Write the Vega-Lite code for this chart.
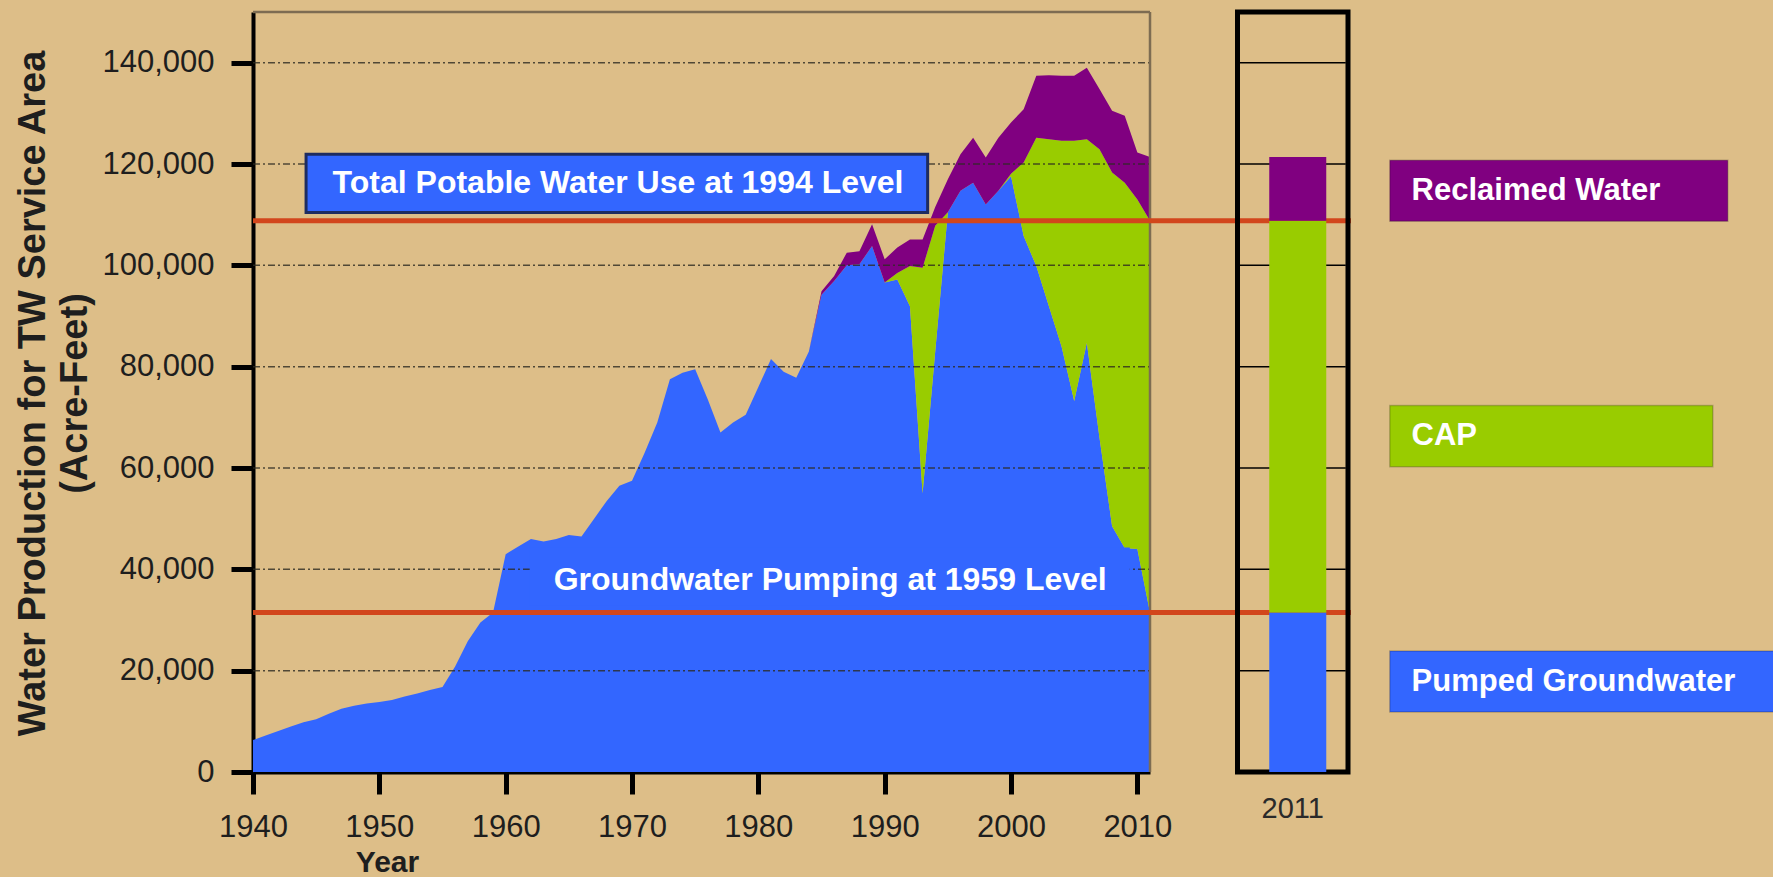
{
  "$schema": "https://vega.github.io/schema/vega-lite/v6.json",
  "width": 1098,
  "height": 760,
  "autosize": "none",
  "padding": {"left": 253, "top": 12, "right": 422, "bottom": 105},
  "background": "#DDBE88",
  "config": {
    "view": {"stroke": null},
    "font": "Liberation Sans",
    "axis": {"labelFont": "Liberation Sans", "titleFont": "Liberation Sans"},
    "text": {"font": "Liberation Sans"}
  },
  "datasets": {
    "grid": [{"v": 20000}, {"v": 40000}, {"v": 60000}, {"v": 80000}, {"v": 100000}, {"v": 120000}, {"v": 140000}],
    "levels": [
      {"level": "Total Potable Water Use at 1994 Level", "value": 108800},
      {"level": "Groundwater Pumping at 1959 Level", "value": 31500}
    ],
    "one": [{}],
    "water": [
      {"year":1940,"source":"Pumped Groundwater","value":6300,"rank":1},{"year":1940,"source":"CAP","value":0,"rank":2},{"year":1940,"source":"Reclaimed Water","value":0,"rank":3},
      {"year":1941,"source":"Pumped Groundwater","value":7200,"rank":1},{"year":1941,"source":"CAP","value":0,"rank":2},{"year":1941,"source":"Reclaimed Water","value":0,"rank":3},
      {"year":1942,"source":"Pumped Groundwater","value":8100,"rank":1},{"year":1942,"source":"CAP","value":0,"rank":2},{"year":1942,"source":"Reclaimed Water","value":0,"rank":3},
      {"year":1943,"source":"Pumped Groundwater","value":9000,"rank":1},{"year":1943,"source":"CAP","value":0,"rank":2},{"year":1943,"source":"Reclaimed Water","value":0,"rank":3},
      {"year":1944,"source":"Pumped Groundwater","value":9800,"rank":1},{"year":1944,"source":"CAP","value":0,"rank":2},{"year":1944,"source":"Reclaimed Water","value":0,"rank":3},
      {"year":1945,"source":"Pumped Groundwater","value":10400,"rank":1},{"year":1945,"source":"CAP","value":0,"rank":2},{"year":1945,"source":"Reclaimed Water","value":0,"rank":3},
      {"year":1946,"source":"Pumped Groundwater","value":11500,"rank":1},{"year":1946,"source":"CAP","value":0,"rank":2},{"year":1946,"source":"Reclaimed Water","value":0,"rank":3},
      {"year":1947,"source":"Pumped Groundwater","value":12500,"rank":1},{"year":1947,"source":"CAP","value":0,"rank":2},{"year":1947,"source":"Reclaimed Water","value":0,"rank":3},
      {"year":1948,"source":"Pumped Groundwater","value":13100,"rank":1},{"year":1948,"source":"CAP","value":0,"rank":2},{"year":1948,"source":"Reclaimed Water","value":0,"rank":3},
      {"year":1949,"source":"Pumped Groundwater","value":13500,"rank":1},{"year":1949,"source":"CAP","value":0,"rank":2},{"year":1949,"source":"Reclaimed Water","value":0,"rank":3},
      {"year":1950,"source":"Pumped Groundwater","value":13800,"rank":1},{"year":1950,"source":"CAP","value":0,"rank":2},{"year":1950,"source":"Reclaimed Water","value":0,"rank":3},
      {"year":1951,"source":"Pumped Groundwater","value":14200,"rank":1},{"year":1951,"source":"CAP","value":0,"rank":2},{"year":1951,"source":"Reclaimed Water","value":0,"rank":3},
      {"year":1952,"source":"Pumped Groundwater","value":14900,"rank":1},{"year":1952,"source":"CAP","value":0,"rank":2},{"year":1952,"source":"Reclaimed Water","value":0,"rank":3},
      {"year":1953,"source":"Pumped Groundwater","value":15500,"rank":1},{"year":1953,"source":"CAP","value":0,"rank":2},{"year":1953,"source":"Reclaimed Water","value":0,"rank":3},
      {"year":1954,"source":"Pumped Groundwater","value":16200,"rank":1},{"year":1954,"source":"CAP","value":0,"rank":2},{"year":1954,"source":"Reclaimed Water","value":0,"rank":3},
      {"year":1955,"source":"Pumped Groundwater","value":16800,"rank":1},{"year":1955,"source":"CAP","value":0,"rank":2},{"year":1955,"source":"Reclaimed Water","value":0,"rank":3},
      {"year":1956,"source":"Pumped Groundwater","value":20800,"rank":1},{"year":1956,"source":"CAP","value":0,"rank":2},{"year":1956,"source":"Reclaimed Water","value":0,"rank":3},
      {"year":1957,"source":"Pumped Groundwater","value":25800,"rank":1},{"year":1957,"source":"CAP","value":0,"rank":2},{"year":1957,"source":"Reclaimed Water","value":0,"rank":3},
      {"year":1958,"source":"Pumped Groundwater","value":29500,"rank":1},{"year":1958,"source":"CAP","value":0,"rank":2},{"year":1958,"source":"Reclaimed Water","value":0,"rank":3},
      {"year":1959,"source":"Pumped Groundwater","value":31500,"rank":1},{"year":1959,"source":"CAP","value":0,"rank":2},{"year":1959,"source":"Reclaimed Water","value":0,"rank":3},
      {"year":1960,"source":"Pumped Groundwater","value":43000,"rank":1},{"year":1960,"source":"CAP","value":0,"rank":2},{"year":1960,"source":"Reclaimed Water","value":0,"rank":3},
      {"year":1961,"source":"Pumped Groundwater","value":44500,"rank":1},{"year":1961,"source":"CAP","value":0,"rank":2},{"year":1961,"source":"Reclaimed Water","value":0,"rank":3},
      {"year":1962,"source":"Pumped Groundwater","value":46000,"rank":1},{"year":1962,"source":"CAP","value":0,"rank":2},{"year":1962,"source":"Reclaimed Water","value":0,"rank":3},
      {"year":1963,"source":"Pumped Groundwater","value":45500,"rank":1},{"year":1963,"source":"CAP","value":0,"rank":2},{"year":1963,"source":"Reclaimed Water","value":0,"rank":3},
      {"year":1964,"source":"Pumped Groundwater","value":46000,"rank":1},{"year":1964,"source":"CAP","value":0,"rank":2},{"year":1964,"source":"Reclaimed Water","value":0,"rank":3},
      {"year":1965,"source":"Pumped Groundwater","value":46800,"rank":1},{"year":1965,"source":"CAP","value":0,"rank":2},{"year":1965,"source":"Reclaimed Water","value":0,"rank":3},
      {"year":1966,"source":"Pumped Groundwater","value":46500,"rank":1},{"year":1966,"source":"CAP","value":0,"rank":2},{"year":1966,"source":"Reclaimed Water","value":0,"rank":3},
      {"year":1967,"source":"Pumped Groundwater","value":50000,"rank":1},{"year":1967,"source":"CAP","value":0,"rank":2},{"year":1967,"source":"Reclaimed Water","value":0,"rank":3},
      {"year":1968,"source":"Pumped Groundwater","value":53500,"rank":1},{"year":1968,"source":"CAP","value":0,"rank":2},{"year":1968,"source":"Reclaimed Water","value":0,"rank":3},
      {"year":1969,"source":"Pumped Groundwater","value":56500,"rank":1},{"year":1969,"source":"CAP","value":0,"rank":2},{"year":1969,"source":"Reclaimed Water","value":0,"rank":3},
      {"year":1970,"source":"Pumped Groundwater","value":57500,"rank":1},{"year":1970,"source":"CAP","value":0,"rank":2},{"year":1970,"source":"Reclaimed Water","value":0,"rank":3},
      {"year":1971,"source":"Pumped Groundwater","value":63000,"rank":1},{"year":1971,"source":"CAP","value":0,"rank":2},{"year":1971,"source":"Reclaimed Water","value":0,"rank":3},
      {"year":1972,"source":"Pumped Groundwater","value":69000,"rank":1},{"year":1972,"source":"CAP","value":0,"rank":2},{"year":1972,"source":"Reclaimed Water","value":0,"rank":3},
      {"year":1973,"source":"Pumped Groundwater","value":77500,"rank":1},{"year":1973,"source":"CAP","value":0,"rank":2},{"year":1973,"source":"Reclaimed Water","value":0,"rank":3},
      {"year":1974,"source":"Pumped Groundwater","value":78800,"rank":1},{"year":1974,"source":"CAP","value":0,"rank":2},{"year":1974,"source":"Reclaimed Water","value":0,"rank":3},
      {"year":1975,"source":"Pumped Groundwater","value":79500,"rank":1},{"year":1975,"source":"CAP","value":0,"rank":2},{"year":1975,"source":"Reclaimed Water","value":0,"rank":3},
      {"year":1976,"source":"Pumped Groundwater","value":73500,"rank":1},{"year":1976,"source":"CAP","value":0,"rank":2},{"year":1976,"source":"Reclaimed Water","value":0,"rank":3},
      {"year":1977,"source":"Pumped Groundwater","value":67000,"rank":1},{"year":1977,"source":"CAP","value":0,"rank":2},{"year":1977,"source":"Reclaimed Water","value":0,"rank":3},
      {"year":1978,"source":"Pumped Groundwater","value":69000,"rank":1},{"year":1978,"source":"CAP","value":0,"rank":2},{"year":1978,"source":"Reclaimed Water","value":0,"rank":3},
      {"year":1979,"source":"Pumped Groundwater","value":70500,"rank":1},{"year":1979,"source":"CAP","value":0,"rank":2},{"year":1979,"source":"Reclaimed Water","value":0,"rank":3},
      {"year":1980,"source":"Pumped Groundwater","value":76000,"rank":1},{"year":1980,"source":"CAP","value":0,"rank":2},{"year":1980,"source":"Reclaimed Water","value":0,"rank":3},
      {"year":1981,"source":"Pumped Groundwater","value":81500,"rank":1},{"year":1981,"source":"CAP","value":0,"rank":2},{"year":1981,"source":"Reclaimed Water","value":0,"rank":3},
      {"year":1982,"source":"Pumped Groundwater","value":79000,"rank":1},{"year":1982,"source":"CAP","value":0,"rank":2},{"year":1982,"source":"Reclaimed Water","value":0,"rank":3},
      {"year":1983,"source":"Pumped Groundwater","value":77800,"rank":1},{"year":1983,"source":"CAP","value":0,"rank":2},{"year":1983,"source":"Reclaimed Water","value":0,"rank":3},
      {"year":1984,"source":"Pumped Groundwater","value":83000,"rank":1},{"year":1984,"source":"CAP","value":0,"rank":2},{"year":1984,"source":"Reclaimed Water","value":0,"rank":3},
      {"year":1985,"source":"Pumped Groundwater","value":94200,"rank":1},{"year":1985,"source":"CAP","value":0,"rank":2},{"year":1985,"source":"Reclaimed Water","value":700,"rank":3},
      {"year":1986,"source":"Pumped Groundwater","value":96900,"rank":1},{"year":1986,"source":"CAP","value":0,"rank":2},{"year":1986,"source":"Reclaimed Water","value":1000,"rank":3},
      {"year":1987,"source":"Pumped Groundwater","value":100000,"rank":1},{"year":1987,"source":"CAP","value":0,"rank":2},{"year":1987,"source":"Reclaimed Water","value":2500,"rank":3},
      {"year":1988,"source":"Pumped Groundwater","value":100200,"rank":1},{"year":1988,"source":"CAP","value":0,"rank":2},{"year":1988,"source":"Reclaimed Water","value":2600,"rank":3},
      {"year":1989,"source":"Pumped Groundwater","value":103800,"rank":1},{"year":1989,"source":"CAP","value":0,"rank":2},{"year":1989,"source":"Reclaimed Water","value":4300,"rank":3},
      {"year":1990,"source":"Pumped Groundwater","value":96600,"rank":1},{"year":1990,"source":"CAP","value":0,"rank":2},{"year":1990,"source":"Reclaimed Water","value":4600,"rank":3},
      {"year":1991,"source":"Pumped Groundwater","value":97200,"rank":1},{"year":1991,"source":"CAP","value":1300,"rank":2},{"year":1991,"source":"Reclaimed Water","value":5000,"rank":3},
      {"year":1992,"source":"Pumped Groundwater","value":91900,"rank":1},{"year":1992,"source":"CAP","value":7950,"rank":2},{"year":1992,"source":"Reclaimed Water","value":5250,"rank":3},
      {"year":1993,"source":"Pumped Groundwater","value":55000,"rank":1},{"year":1993,"source":"CAP","value":44500,"rank":2},{"year":1993,"source":"Reclaimed Water","value":5600,"rank":3},
      {"year":1994,"source":"Pumped Groundwater","value":83000,"rank":1},{"year":1994,"source":"CAP","value":24800,"rank":2},{"year":1994,"source":"Reclaimed Water","value":3700,"rank":3},
      {"year":1995,"source":"Pumped Groundwater","value":110500,"rank":1},{"year":1995,"source":"CAP","value":0,"rank":2},{"year":1995,"source":"Reclaimed Water","value":6500,"rank":3},
      {"year":1996,"source":"Pumped Groundwater","value":114700,"rank":1},{"year":1996,"source":"CAP","value":0,"rank":2},{"year":1996,"source":"Reclaimed Water","value":7200,"rank":3},
      {"year":1997,"source":"Pumped Groundwater","value":116300,"rank":1},{"year":1997,"source":"CAP","value":0,"rank":2},{"year":1997,"source":"Reclaimed Water","value":8900,"rank":3},
      {"year":1998,"source":"Pumped Groundwater","value":112000,"rank":1},{"year":1998,"source":"CAP","value":0,"rank":2},{"year":1998,"source":"Reclaimed Water","value":9300,"rank":3},
      {"year":1999,"source":"Pumped Groundwater","value":114700,"rank":1},{"year":1999,"source":"CAP","value":0,"rank":2},{"year":1999,"source":"Reclaimed Water","value":10500,"rank":3},
      {"year":2000,"source":"Pumped Groundwater","value":117600,"rank":1},{"year":2000,"source":"CAP","value":500,"rank":2},{"year":2000,"source":"Reclaimed Water","value":10100,"rank":3},
      {"year":2001,"source":"Pumped Groundwater","value":105800,"rank":1},{"year":2001,"source":"CAP","value":14500,"rank":2},{"year":2001,"source":"Reclaimed Water","value":10500,"rank":3},
      {"year":2002,"source":"Pumped Groundwater","value":99850,"rank":1},{"year":2002,"source":"CAP","value":25350,"rank":2},{"year":2002,"source":"Reclaimed Water","value":12200,"rank":3},
      {"year":2003,"source":"Pumped Groundwater","value":91900,"rank":1},{"year":2003,"source":"CAP","value":33000,"rank":2},{"year":2003,"source":"Reclaimed Water","value":12600,"rank":3},
      {"year":2004,"source":"Pumped Groundwater","value":84000,"rank":1},{"year":2004,"source":"CAP","value":40600,"rank":2},{"year":2004,"source":"Reclaimed Water","value":12800,"rank":3},
      {"year":2005,"source":"Pumped Groundwater","value":73200,"rank":1},{"year":2005,"source":"CAP","value":51400,"rank":2},{"year":2005,"source":"Reclaimed Water","value":12800,"rank":3},
      {"year":2006,"source":"Pumped Groundwater","value":84700,"rank":1},{"year":2006,"source":"CAP","value":40200,"rank":2},{"year":2006,"source":"Reclaimed Water","value":14100,"rank":3},
      {"year":2007,"source":"Pumped Groundwater","value":66000,"rank":1},{"year":2007,"source":"CAP","value":56900,"rank":2},{"year":2007,"source":"Reclaimed Water","value":11900,"rank":3},
      {"year":2008,"source":"Pumped Groundwater","value":48500,"rank":1},{"year":2008,"source":"CAP","value":69800,"rank":2},{"year":2008,"source":"Reclaimed Water","value":12200,"rank":3},
      {"year":2009,"source":"Pumped Groundwater","value":44200,"rank":1},{"year":2009,"source":"CAP","value":72100,"rank":2},{"year":2009,"source":"Reclaimed Water","value":13200,"rank":3},
      {"year":2010,"source":"Pumped Groundwater","value":44000,"rank":1},{"year":2010,"source":"CAP","value":69000,"rank":2},{"year":2010,"source":"Reclaimed Water","value":9250,"rank":3},
      {"year":2011,"source":"Pumped Groundwater","value":31500,"rank":1},{"year":2011,"source":"CAP","value":77300,"rank":2},{"year":2011,"source":"Reclaimed Water","value":12600,"rank":3}
    ]
  },
  "layer": [
    {
      "layer": [
        {
          "data": {"name": "water"},
          "mark": {"type": "area", "interpolate": "linear"},
          "encoding": {
            "x": {
              "field": "year", "type": "quantitative",
              "scale": {"domain": [1940, 2011], "range": [0, 897], "nice": false, "zero": false},
              "axis": {
                "values": [1940, 1950, 1960, 1970, 1980, 1990, 2000, 2010], "format": "d",
                "labelFontSize": 31, "labelColor": "#1e1e1e", "labelFlush": false, "labelOverlap": false, "labelBound": false,
                "labelPadding": 18, "tickColor": "#000000", "tickWidth": 5, "tickSize": 22,
                "domainColor": "#000000", "domainWidth": 4, "grid": false,
                "title": "Year", "titleFontSize": 30, "titleFontWeight": "bold", "titleColor": "#1e1e1e",
                "titleX": 134, "titleY": 90, "titleBaseline": "middle", "titleAlign": "center"
              }
            },
            "y": {
              "field": "value", "type": "quantitative", "stack": "zero",
              "scale": {"domain": [0, 150000], "nice": false},
              "axis": {
                "values": [0, 20000, 40000, 60000, 80000, 100000, 120000, 140000], "format": ",d",
                "labelFontSize": 31, "labelColor": "#1e1e1e", "labelFlush": false, "labelOverlap": false, "labelBound": false,
                "labelPadding": 17, "tickColor": "#000000", "tickWidth": 5, "tickSize": 22,
                "domainColor": "#000000", "domainWidth": 4, "grid": false,
                "title": ["Water Production for TW Service Area", "(Acre-Feet)"],
                "titleFontSize": 38, "titleFontWeight": "bold", "titleColor": "#1e1e1e",
                "titleX": -239, "titleY": 381, "titleBaseline": "top", "titleAlign": "center", "titleLineHeight": 42
              }
            },
            "color": {
              "field": "source", "type": "nominal",
              "scale": {"domain": ["Reclaimed Water", "CAP", "Pumped Groundwater"], "range": ["#800080", "#99CC00", "#3366FF"]},
              "legend": null
            },
            "order": {"field": "rank", "type": "quantitative"}
          }
        },
        {
          "data": {"name": "grid"},
          "mark": {"type": "rule", "color": "#2d2a22", "strokeWidth": 1.5, "strokeDash": [7, 3, 2, 3], "opacity": 0.8},
          "encoding": {
            "x": {"datum": 1940, "type": "quantitative"},
            "x2": {"datum": 2011},
            "y": {"field": "v", "type": "quantitative"}
          }
        },
        {
          "data": {"name": "one"},
          "mark": {"type": "rule", "color": "#7d6c52", "strokeWidth": 2.5},
          "encoding": {
            "x": {"datum": 1940, "type": "quantitative"},
            "x2": {"datum": 2011},
            "y": {"datum": 150000, "type": "quantitative"}
          }
        },
        {
          "data": {"name": "one"},
          "mark": {"type": "rule", "color": "#7d6c52", "strokeWidth": 2.5},
          "encoding": {
            "x": {"datum": 2011, "type": "quantitative"},
            "y": {"datum": 0, "type": "quantitative"},
            "y2": {"datum": 150000}
          }
        },
        {
          "data": {"name": "one"},
          "mark": {"type": "rect", "fill": "#3366FF", "stroke": "#1E2C60", "strokeWidth": 3},
          "encoding": {
            "x": {"datum": 1944.2, "type": "quantitative"},
            "x2": {"datum": 1993.4},
            "y": {"datum": 110450, "type": "quantitative"},
            "y2": {"datum": 121900}
          }
        },
        {
          "data": {"name": "one"},
          "mark": {"type": "text", "align": "left", "baseline": "middle", "color": "#FFFFFF", "fontSize": 32, "fontWeight": "bold"},
          "encoding": {
            "x": {"datum": 1946.3, "type": "quantitative"},
            "y": {"datum": 116300, "type": "quantitative"},
            "text": {"value": "Total Potable Water Use at 1994 Level"}
          }
        },
        {
          "data": {"name": "one"},
          "mark": {"type": "rect", "fill": "#3366FF"},
          "encoding": {
            "x": {"datum": 1961.9, "type": "quantitative"},
            "x2": {"datum": 2009.4},
            "y": {"datum": 32800, "type": "quantitative"},
            "y2": {"datum": 44300}
          }
        },
        {
          "data": {"name": "one"},
          "mark": {"type": "text", "align": "left", "baseline": "middle", "color": "#FFFFFF", "fontSize": 32, "fontWeight": "bold"},
          "encoding": {
            "x": {"datum": 1963.8, "type": "quantitative"},
            "y": {"datum": 37900, "type": "quantitative"},
            "text": {"value": "Groundwater Pumping at 1959 Level"}
          }
        }
      ]
    },
    {
      "data": {"name": "levels"},
      "mark": {"type": "rule", "color": "#D2461C", "strokeWidth": 5},
      "encoding": {
        "y": {"field": "value", "type": "quantitative", "scale": {"domain": [0, 150000], "nice": false}, "axis": null}
      }
    },
    {
      "layer": [
        {
          "data": {"name": "one"},
          "mark": {"type": "rect", "fill": "transparent", "stroke": "#000000", "strokeWidth": 5},
          "encoding": {
            "x": {"datum": 2011, "type": "ordinal", "scale": {"domain": [2011], "range": [984.5, 1095], "paddingInner": 0, "paddingOuter": 0}},
            "y": {"datum": 0, "type": "quantitative", "scale": {"domain": [0, 150000], "nice": false}, "axis": null},
            "y2": {"datum": 150000}
          }
        },
        {
          "data": {"name": "grid"},
          "mark": {"type": "tick", "orient": "horizontal", "color": "#000000", "thickness": 1.5, "size": 106, "opacity": 1},
          "encoding": {
            "x": {"datum": 2011, "type": "ordinal"},
            "y": {"field": "v", "type": "quantitative", "axis": null}
          }
        },
        {
          "data": {"name": "water"},
          "transform": [{"filter": {"field": "year", "equal": 2011}}],
          "mark": {"type": "bar", "width": 57, "xOffset": 5},
          "encoding": {
            "x": {
              "field": "year", "type": "ordinal",
              "axis": {"orient": "bottom", "domain": false, "ticks": false, "labelAngle": 0, "labelAlign": "center", "labelBaseline": "top", "bandPosition": 0.5, "labelFontSize": 29, "labelColor": "#2a2a2a", "labelPadding": 22, "title": null}
            },
            "y": {"field": "value", "type": "quantitative", "stack": "zero", "axis": null},
            "color": {
              "field": "source", "type": "nominal",
              "scale": {"domain": ["Reclaimed Water", "CAP", "Pumped Groundwater"], "range": ["#800080", "#99CC00", "#3366FF"]},
              "legend": null
            },
            "order": {"field": "rank", "type": "quantitative"}
          }
        }
      ]
    },
    {
      "data": {"name": "water"},
      "transform": [{"filter": {"field": "year", "equal": 2011}}],
      "layer": [
        {
          "mark": {
            "type": "rect", "stroke": "#00000033", "strokeWidth": 1.5,
            "width": {"expr": "datum.source === 'Pumped Groundwater' ? 392 : (datum.source === 'CAP' ? 323 : 338)"},
            "xOffset": {"expr": "datum.source === 'Pumped Groundwater' ? 27 : (datum.source === 'CAP' ? -7.5 : 0)"}
          },
          "encoding": {
            "x": {"field": "year", "type": "ordinal", "scale": {"domain": [2011], "range": [1136.6, 1475], "paddingInner": 0, "paddingOuter": 0}, "axis": null},
            "y": {"field": "source", "type": "nominal", "scale": {"domain": ["Reclaimed Water", "CAP", "Pumped Groundwater"], "range": [56, 792.2], "paddingInner": 0.751, "paddingOuter": 0.3755}, "axis": null},
            "color": {
              "field": "source", "type": "nominal",
              "scale": {"domain": ["Reclaimed Water", "CAP", "Pumped Groundwater"], "range": ["#800080", "#99CC00", "#3366FF"]},
              "legend": null
            }
          }
        },
        {
          "mark": {"type": "text", "align": "left", "baseline": "middle", "dx": 22, "fontSize": 31, "fontWeight": "bold", "color": "#FFFFFF"},
          "encoding": {
            "x": {"field": "year", "type": "ordinal", "bandPosition": 0, "axis": null},
            "y": {"field": "source", "type": "nominal", "axis": null},
            "text": {"field": "source"}
          }
        }
      ]
    }
  ],
  "resolve": {"scale": {"x": "independent", "y": "independent"}}
}
